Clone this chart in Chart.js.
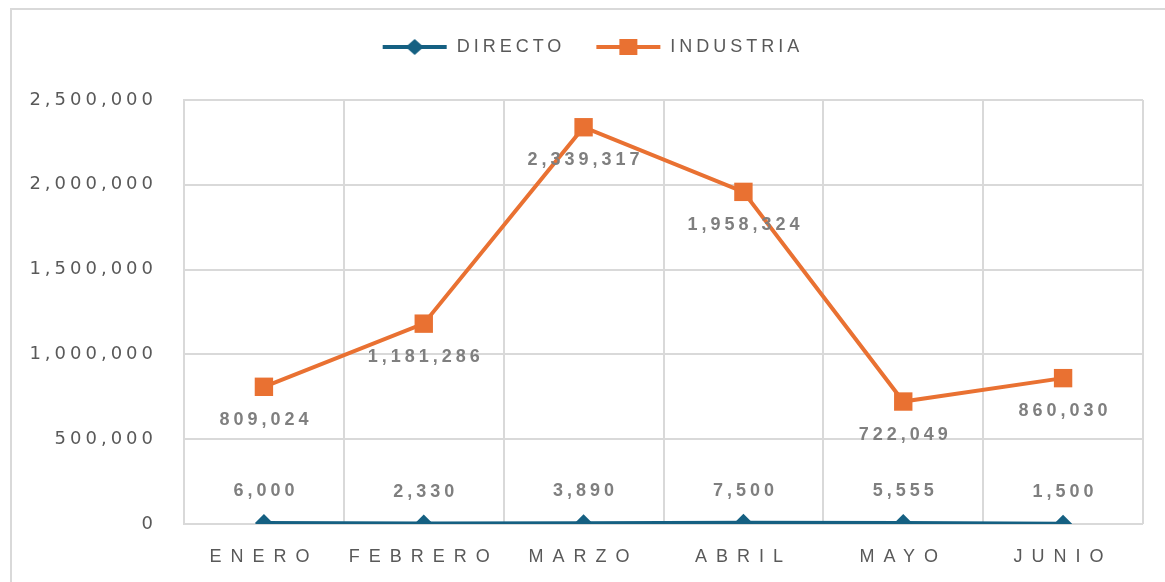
<!DOCTYPE html>
<html>
<head>
<meta charset="utf-8">
<script src="https://cdn.jsdelivr.net/npm/chart.js@4/dist/chart.umd.min.js"></script>
<style>
  html, body { margin: 0; padding: 0; background: #fff; }
  #wrap { position: relative; width: 1165px; height: 582px; }
</style>
</head>
<body>
<div id="wrap"><canvas id="lineChart"></canvas></div>
<script>
const months = ['ENERO', 'FEBRERO', 'MARZO', 'ABRIL', 'MAYO', 'JUNIO'];
const directo = [6000, 2330, 3890, 7500, 5555, 1500];
const industria = [809024, 1181286, 2339317, 1958324, 722049, 860030];
const yTicks = [0, 500000, 1000000, 1500000, 2000000, 2500000];

const blue = '#156082';
const orange = '#E97132';
const FONT = "'Liberation Sans', Arial, sans-serif";

// legend swatch: line with marker in the middle
function legendSwatch(color, shape) {
    const c = document.createElement('canvas');
    c.width = 66; c.height = 20;
    const g = c.getContext('2d');
    g.strokeStyle = color;
    g.lineWidth = 4;
    g.beginPath();
    g.moveTo(1, 10); g.lineTo(65, 10);
    g.stroke();
    g.fillStyle = color;
    if (shape === 'diamond') {
        g.beginPath();
        g.moveTo(33, 2); g.lineTo(42, 10); g.lineTo(33, 18); g.lineTo(24, 10);
        g.closePath(); g.fill();
    } else {
        g.fillRect(24, 2, 18, 16);
    }
    return c;
}
const swatches = [legendSwatch(blue, 'diamond'), legendSwatch(orange, 'square')];

const fmt = v => v.toLocaleString('en-US');

// outer frame, letter spacing, legend size/shift
const framePlugin = {
    id: 'frame',
    beforeLayout(chart) {
        chart.ctx.letterSpacing = '4px';
        const lg = chart.legend;
        if (lg && !lg._wrapped) {
            const origFit = lg.fit.bind(lg);
            lg.fit = function () { origFit(); this.height += 34; };
            lg._wrapped = true;
        }
    },
    afterLayout(chart) {
        const lg = chart.legend;
        if (lg) { lg.left += 21; lg.right += 21; }
    },
    beforeDraw(chart) {
        const ctx = chart.ctx;
        ctx.save();
        ctx.strokeStyle = '#d9d9d9';
        ctx.lineWidth = 2;
        ctx.beginPath();
        ctx.moveTo(1165, 9);
        ctx.lineTo(11, 9);
        ctx.lineTo(11, 582);
        ctx.stroke();
        ctx.restore();
        ctx.letterSpacing = '4px';
        const xs = chart.scales.x;
        if (!xs._wrapped) {
            const orig = xs.drawLabels.bind(xs);
            xs.drawLabels = function (area) {
                const c = this.ctx;
                const prev = c.letterSpacing;
                c.letterSpacing = '9px';
                orig(area);
                c.letterSpacing = prev;
            };
            xs._wrapped = true;
        }
        const ys = chart.scales.y;
        if (!ys._wrapped) {
            const origY = ys.drawLabels.bind(ys);
            ys.drawLabels = function (area) {
                const c = this.ctx;
                const prev = c.letterSpacing;
                c.letterSpacing = '4px';
                origY(area);
                c.letterSpacing = prev;
            };
            ys._wrapped = true;
        }
    }
};

// value labels
const valueLabels = {
    id: 'valueLabels',
    afterDatasetsDraw(chart) {
        const ctx = chart.ctx;
        ctx.save();
        ctx.letterSpacing = '4px';
        ctx.font = 'bold 18px ' + FONT;
        ctx.fillStyle = '#7f7f7f';
        ctx.textAlign = 'center';
        ctx.textBaseline = 'middle';
        chart.data.datasets.forEach((ds, i) => {
            const meta = chart.getDatasetMeta(i);
            meta.data.forEach((pt, j) => {
                const dy = i === 0 ? -32 : 33;
                ctx.fillText(fmt(ds.data[j]), pt.x + 2, pt.y + dy);
            });
        });
        ctx.restore();
    }
};

const ctx = document.getElementById('lineChart');

const chartData = {
    labels: months,
    datasets: [{
        label: 'DIRECTO',
        data: directo,
        borderColor: blue,
        backgroundColor: blue,
        borderWidth: 4,
        pointStyle: 'rectRot',
        pointRadius: 9,
        pointBorderWidth: 0,
        tension: 0
    }, {
        label: 'INDUSTRIA',
        data: industria,
        borderColor: orange,
        backgroundColor: orange,
        borderWidth: 4,
        pointStyle: 'rect',
        pointRadius: 13,
        pointBorderWidth: 0,
        tension: 0
    }]
};

const config = {
    type: 'line',
    data: chartData,
    options: {
        responsive: true,
        maintainAspectRatio: false,
        animation: false,
        layout: {
            padding: { left: 0, right: 22, top: 8, bottom: 0 }
        },
        plugins: {
            tooltip: { enabled: false },
            legend: {
                position: 'top',
                labels: {
                    usePointStyle: true,
                    pointStyleWidth: 66,
                    padding: 30,
                    color: '#595959',
                    font: { family: FONT, size: 18 },
                    generateLabels(chart) {
                        return chart.data.datasets.map((ds, i) => ({
                            text: ds.label,
                            fillStyle: ds.borderColor,
                            strokeStyle: ds.borderColor,
                            fontColor: '#595959',
                            pointStyle: swatches[i],
                            lineWidth: 0,
                            hidden: false,
                            datasetIndex: i
                        }));
                    }
                }
            }
        },
        scales: {
            x: {
                offset: true,
                grid: { offset: true, color: '#d9d9d9', lineWidth: 2, drawTicks: false },
                border: { display: false },
                ticks: {
                    color: '#595959',
                    padding: 22,
                    maxRotation: 0,
                    font: { family: FONT, size: 18 }
                },
                afterFit(scale) { scale.height = 58; }
            },
            y: {
                min: 0,
                max: 2500000,
                afterBuildTicks(scale) { scale.ticks = yTicks.map(v => ({ value: v })); },
                grid: { color: '#d9d9d9', lineWidth: 2, drawTicks: false },
                border: { display: true, color: '#d9d9d9', width: 2 },
                ticks: {
                    color: '#595959',
                    padding: 27,
                    font: { family: "'DejaVu Sans', sans-serif", size: 18 },
                    callback: v => fmt(v)
                },
                afterFit(scale) { scale.width = 184; }
            }
        }
    },
    plugins: [framePlugin, valueLabels]
};

const lineChart = new Chart(ctx, config);
</script>
</body>
</html>
